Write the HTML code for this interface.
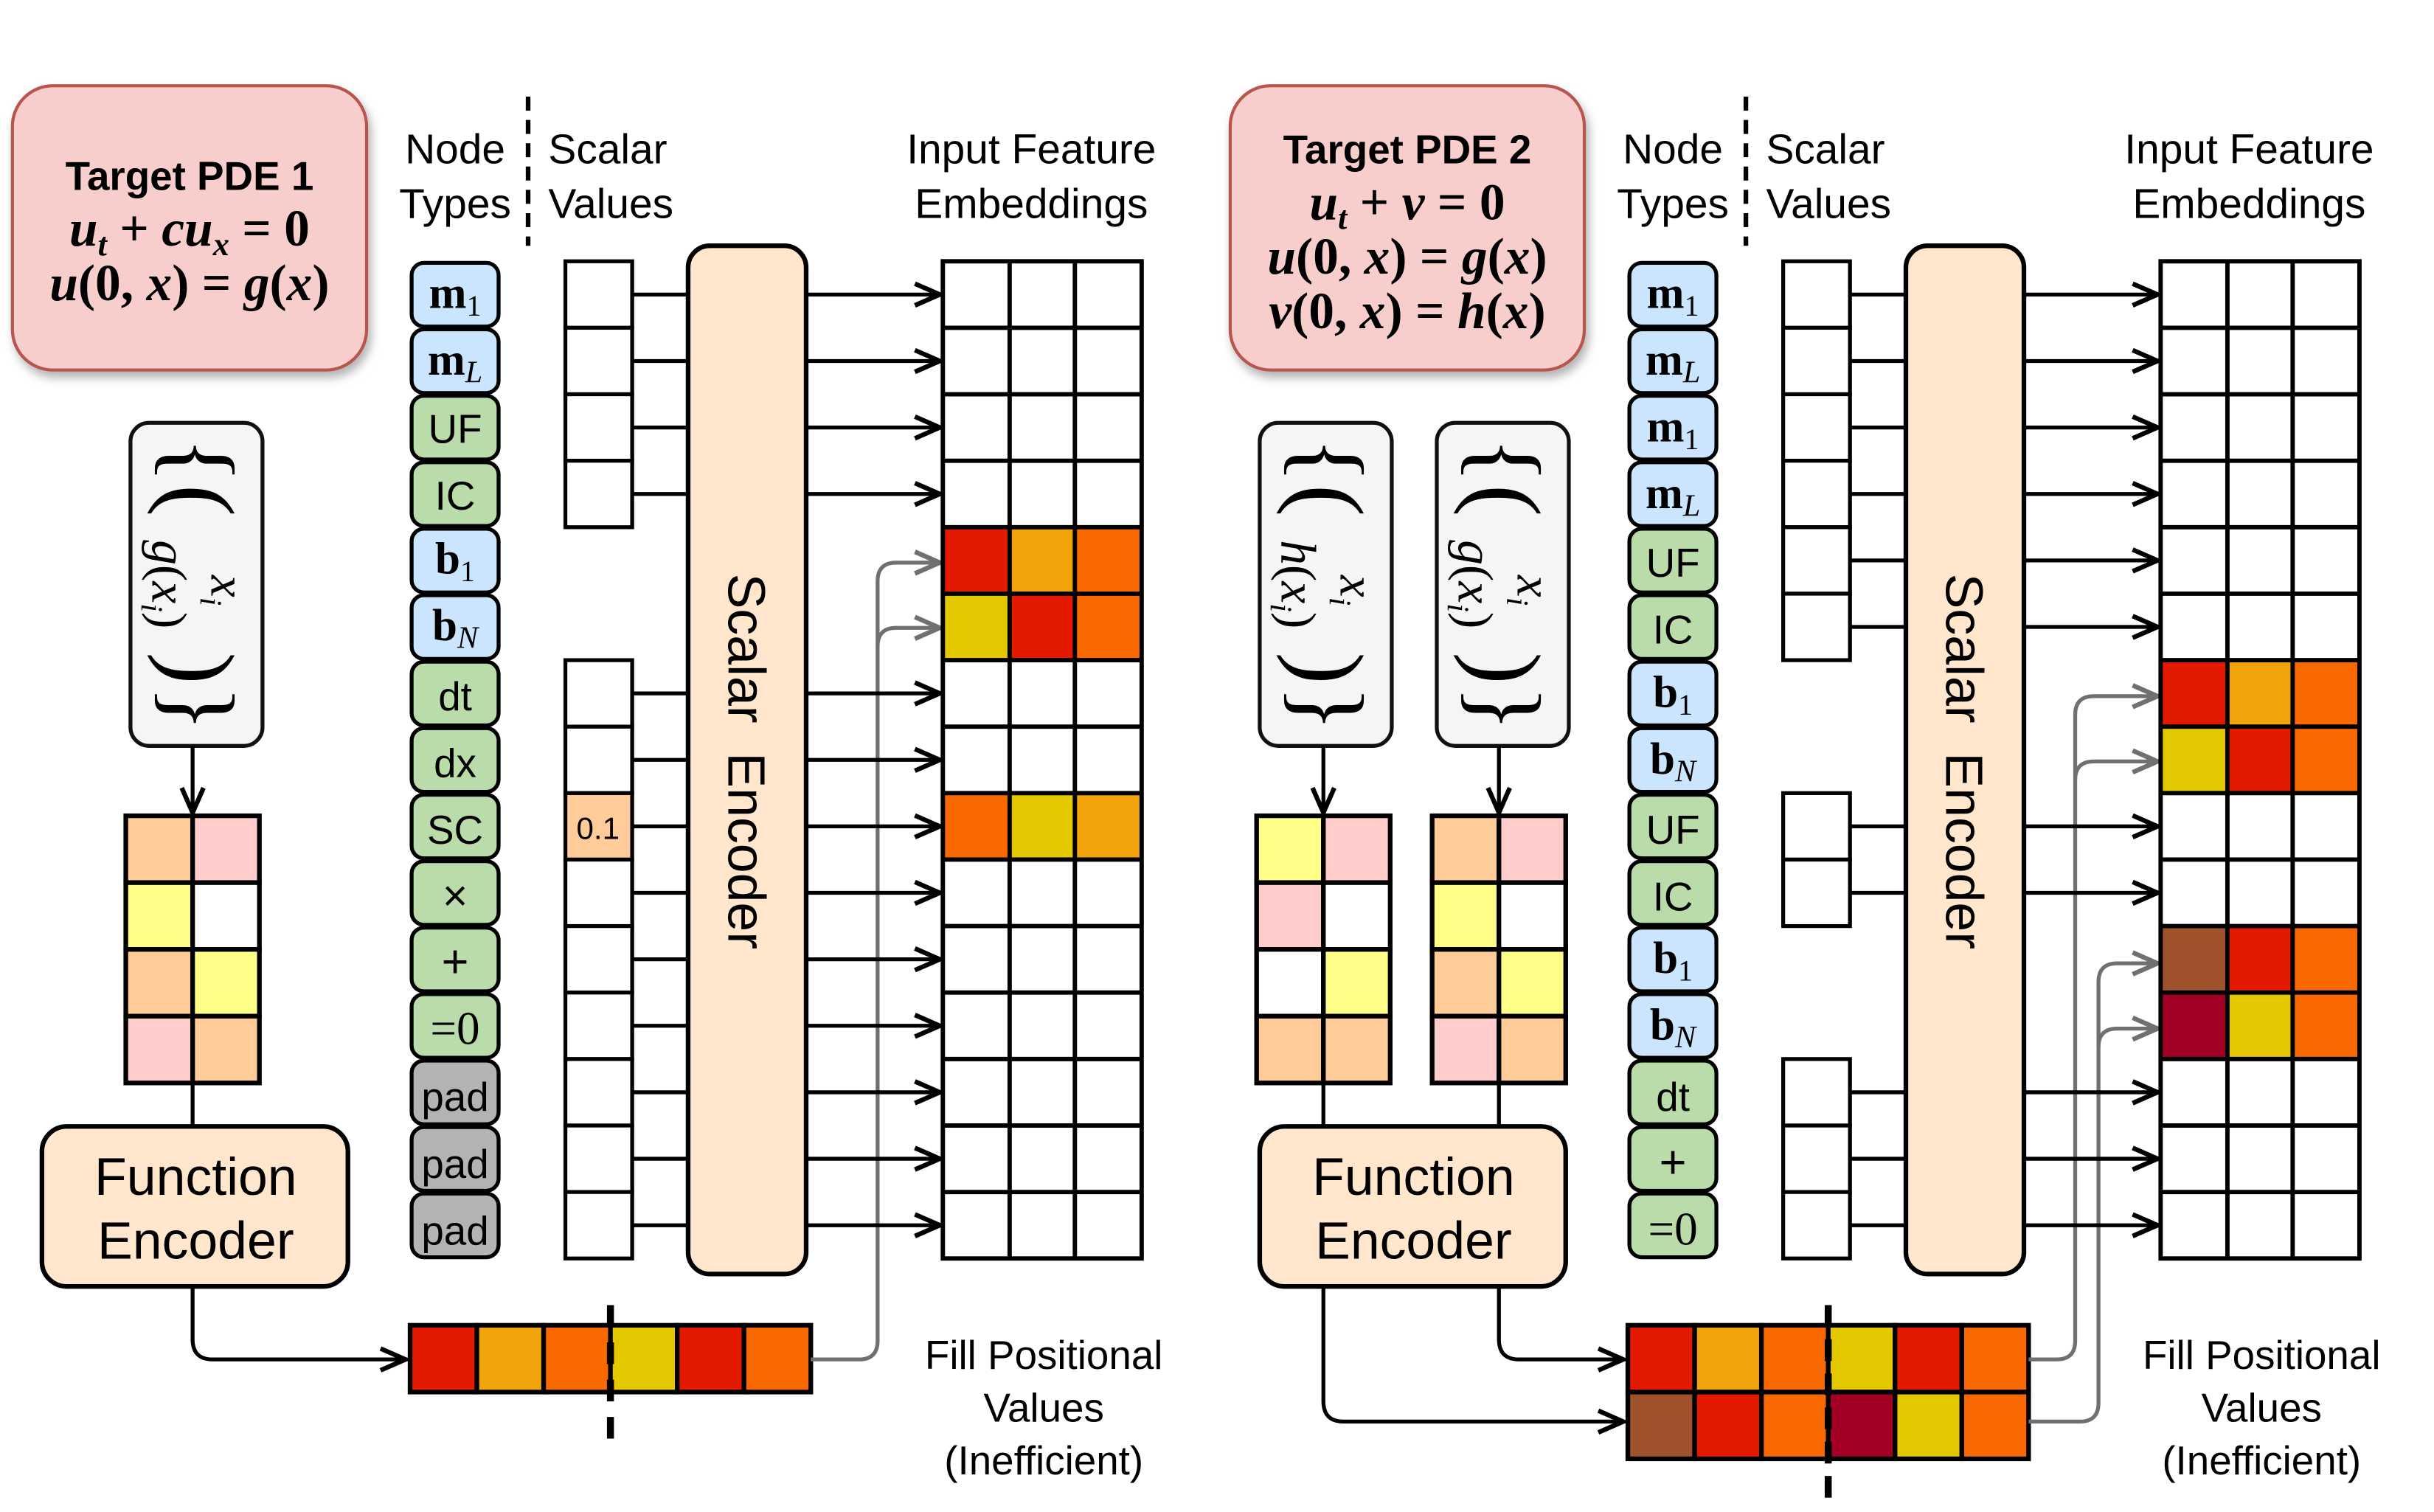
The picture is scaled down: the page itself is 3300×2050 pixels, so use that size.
<!DOCTYPE html>
<html><head><meta charset="utf-8"><style>
html,body{margin:0;padding:0;background:#fff;}
svg{display:block;}
.s{font-family:"Liberation Sans",sans-serif;}
.m{font-family:"Liberation Serif",serif;font-style:italic;}
.mb{font-family:"Liberation Serif",serif;font-weight:bold;}
.eq{font-family:"Liberation Serif",serif;font-style:italic;font-weight:600;}
</style></head><body>
<svg width="3300" height="2050" viewBox="0 0 1567 973" xmlns="http://www.w3.org/2000/svg">
<defs>
<marker id="a" viewBox="0 0 20 20" refX="18" refY="10" markerWidth="20" markerHeight="20" markerUnits="userSpaceOnUse" orient="auto"><polyline points="2,3 18,10 2,17" fill="none" stroke="#000" stroke-width="3"/></marker>
<marker id="g" viewBox="0 0 20 20" refX="18" refY="10" markerWidth="20" markerHeight="20" markerUnits="userSpaceOnUse" orient="auto"><polyline points="2,3 18,10 2,17" fill="none" stroke="#707070" stroke-width="3"/></marker>
<filter id="sh" x="-10%" y="-10%" width="130%" height="130%"><feDropShadow dx="2" dy="4" stdDeviation="3" flood-opacity="0.3"/></filter>
</defs>

<!-- ================= LEFT PANEL ================= -->
<rect x="8" y="55" width="228" height="183" rx="26" fill="#f8cecc" stroke="#b85450" stroke-width="2" filter="url(#sh)"/>
<text x="122" y="122" text-anchor="middle" class="s" font-weight="bold" font-size="26">Target PDE 1</text>
<text x="122" y="158" text-anchor="middle" class="eq" font-size="33">u<tspan font-size="21" dy="6">t</tspan><tspan dy="-6" font-style="normal"> + </tspan>cu<tspan font-size="21" dy="6">x</tspan><tspan dy="-6" font-style="normal"> = 0</tspan></text>
<text x="122" y="193" text-anchor="middle" class="eq" font-size="33">u<tspan font-style="normal">(0, </tspan>x<tspan font-style="normal">) = </tspan>g<tspan font-style="normal">(</tspan>x<tspan font-style="normal">)</tspan></text>

<rect x="84" y="272" width="85" height="208" rx="12" fill="#f5f5f5" stroke="#111" stroke-width="2.5"/>
<g transform="translate(126,376) rotate(90)" class="m" text-anchor="middle">
<text x="-80" y="18" font-size="62" font-style="normal">{</text>
<text x="-54" y="18" font-size="62" font-style="normal">(</text>
<text x="4" y="-10" font-size="32">x<tspan font-size="20" dy="7">i</tspan></text>
<text x="0" y="28" font-size="32">g<tspan font-style="normal">(</tspan>x<tspan font-size="20" dy="7">i</tspan><tspan dy="-7" font-style="normal">)</tspan></text>
<text x="54" y="18" font-size="62" font-style="normal">)</text>
<text x="80" y="18" font-size="62" font-style="normal">}</text>
</g>
<line x1="124" y1="480" x2="124" y2="523" stroke="#000" stroke-width="2.5" marker-end="url(#a)"/>

<g stroke="#000" stroke-width="3">
<rect x="81" y="525" width="43" height="43" fill="#ffcc99"/><rect x="124" y="525" width="43" height="43" fill="#ffcccc"/>
<rect x="81" y="568" width="43" height="43" fill="#ffff88"/><rect x="124" y="568" width="43" height="43" fill="#ffffff"/>
<rect x="81" y="611" width="43" height="43" fill="#ffcc99"/><rect x="124" y="611" width="43" height="43" fill="#ffff88"/>
<rect x="81" y="654" width="43" height="43" fill="#ffcccc"/><rect x="124" y="654" width="43" height="43" fill="#ffcc99"/>
</g>
<line x1="124" y1="697" x2="124" y2="725" stroke="#000" stroke-width="2.5"/>
<rect x="27" y="725" width="197" height="103" rx="16" fill="#ffe6cc" stroke="#000" stroke-width="3"/>
<text x="126" y="769" text-anchor="middle" class="s" font-size="34">Function</text>
<text x="126" y="810" text-anchor="middle" class="s" font-size="34">Encoder</text>
<path d="M124,828 V862 Q124,875 137,875 H261" fill="none" stroke="#000" stroke-width="2.5" marker-end="url(#a)"/>

<g stroke="#000" stroke-width="3">
<rect x="264" y="853" width="43" height="43" fill="#e31a00"/>
<rect x="307" y="853" width="43" height="43" fill="#f0a30a"/>
<rect x="350" y="853" width="43" height="43" fill="#fa6800"/>
<rect x="393" y="853" width="43" height="43" fill="#e3c800"/>
<rect x="436" y="853" width="43" height="43" fill="#e31a00"/>
<rect x="479" y="853" width="43" height="43" fill="#fa6800"/>
</g>
<line x1="393" y1="840" x2="393" y2="926" stroke="#000" stroke-width="4.5" stroke-dasharray="14,10"/>
<path d="M522,875 H553 Q565,875 565,863 V374 Q565,362 577,362 H605" fill="none" stroke="#707070" stroke-width="2.5" marker-end="url(#g)"/>
<path d="M565,416 Q565,404 577,404 H605" fill="none" stroke="#707070" stroke-width="2.5" marker-end="url(#g)"/>
<g class="s" font-size="26" text-anchor="middle">
<text x="672" y="881">Fill Positional</text>
<text x="672" y="915">Values</text>
<text x="672" y="949">(Inefficient)</text>
</g>

<g class="s" font-size="27">
<text x="293" y="105" text-anchor="middle">Node</text>
<text x="293" y="140" text-anchor="middle">Types</text>
<text x="353" y="105">Scalar</text>
<text x="353" y="140">Values</text>
<text x="664" y="105" text-anchor="middle">Input Feature</text>
<text x="664" y="140" text-anchor="middle">Embeddings</text>
</g>
<line x1="340" y1="62" x2="340" y2="158" stroke="#000" stroke-width="3" stroke-dasharray="9,6"/>

<g stroke="#000" stroke-width="2.5">
<rect x="265" y="169" width="56" height="41" rx="8" fill="#cce5ff"/>
<rect x="265" y="211.8" width="56" height="41" rx="8" fill="#cce5ff"/>
<rect x="265" y="254.6" width="56" height="41" rx="8" fill="#b9dcaa"/>
<rect x="265" y="297.4" width="56" height="41" rx="8" fill="#b9dcaa"/>
<rect x="265" y="340.2" width="56" height="41" rx="8" fill="#cce5ff"/>
<rect x="265" y="383" width="56" height="41" rx="8" fill="#cce5ff"/>
<rect x="265" y="425.8" width="56" height="41" rx="8" fill="#b9dcaa"/>
<rect x="265" y="468.6" width="56" height="41" rx="8" fill="#b9dcaa"/>
<rect x="265" y="511.4" width="56" height="41" rx="8" fill="#b9dcaa"/>
<rect x="265" y="554.2" width="56" height="41" rx="8" fill="#b9dcaa"/>
<rect x="265" y="597" width="56" height="41" rx="8" fill="#b9dcaa"/>
<rect x="265" y="639.8" width="56" height="41" rx="8" fill="#b9dcaa"/>
<rect x="265" y="682.6" width="56" height="41" rx="8" fill="#b3b3b3"/>
<rect x="265" y="725.4" width="56" height="41" rx="8" fill="#b3b3b3"/>
<rect x="265" y="768.2" width="56" height="41" rx="8" fill="#b3b3b3"/>
</g>
<g text-anchor="middle" font-size="29">
<text x="293" y="198" class="mb">m<tspan font-size="19" dy="5" font-weight="normal">1</tspan></text>
<text x="293" y="241" class="mb">m<tspan font-size="20" dy="5" font-weight="normal" font-style="italic">L</tspan></text>
<text x="293" y="285" class="s" font-size="26">UF</text>
<text x="293" y="328" class="s" font-size="26">IC</text>
<text x="293" y="369" class="mb">b<tspan font-size="19" dy="5" font-weight="normal">1</tspan></text>
<text x="293" y="412" class="mb">b<tspan font-size="20" dy="5" font-weight="normal" font-style="italic">N</tspan></text>
<text x="293" y="457" class="s" font-size="26">dt</text>
<text x="293" y="500" class="s" font-size="26">dx</text>
<text x="293" y="543" class="s" font-size="26">SC</text>
<text x="293" y="586" class="s" font-size="28">×</text>
<text x="293" y="629" class="s" font-size="30">+</text>
<text x="293" y="672" font-family="Liberation Serif" font-size="30">=0</text>
<text x="293" y="715" class="s" font-size="26">pad</text>
<text x="293" y="758" class="s" font-size="26">pad</text>
<text x="293" y="801" class="s" font-size="26">pad</text>
</g>

<g stroke="#000" stroke-width="2.5" fill="#fff">
<rect x="364" y="168" width="43" height="42.8"/><rect x="364" y="210.8" width="43" height="42.8"/>
<rect x="364" y="253.6" width="43" height="42.8"/><rect x="364" y="296.4" width="43" height="42.8"/>
<rect x="364" y="424.8" width="43" height="42.8"/><rect x="364" y="467.6" width="43" height="42.8"/>
<rect x="364" y="510.4" width="43" height="42.8" fill="#ffcc99"/><rect x="364" y="553.2" width="43" height="42.8"/>
<rect x="364" y="596" width="43" height="42.8"/><rect x="364" y="638.8" width="43" height="42.8"/>
<rect x="364" y="681.6" width="43" height="42.8"/><rect x="364" y="724.4" width="43" height="42.8"/>
<rect x="364" y="767.2" width="43" height="42.8"/>
</g>
<text x="385" y="540" text-anchor="middle" class="s" font-size="20">0.1</text>
<g stroke="#000" stroke-width="2.5">
<line x1="407" y1="189.4" x2="443" y2="189.4"/><line x1="407" y1="232.2" x2="443" y2="232.2"/>
<line x1="407" y1="275" x2="443" y2="275"/><line x1="407" y1="317.8" x2="443" y2="317.8"/>
<line x1="407" y1="446.2" x2="443" y2="446.2"/><line x1="407" y1="489" x2="443" y2="489"/>
<line x1="407" y1="531.8" x2="443" y2="531.8"/><line x1="407" y1="574.6" x2="443" y2="574.6"/>
<line x1="407" y1="617.4" x2="443" y2="617.4"/><line x1="407" y1="660.2" x2="443" y2="660.2"/>
<line x1="407" y1="703" x2="443" y2="703"/><line x1="407" y1="745.8" x2="443" y2="745.8"/>
<line x1="407" y1="788.6" x2="443" y2="788.6"/>
</g>
<rect x="443" y="158" width="76" height="662" rx="14" fill="#ffe6cc" stroke="#000" stroke-width="3"/>
<text transform="translate(469,490) rotate(90)" text-anchor="middle" class="s" font-size="34" xml:space="preserve">Scalar  Encoder</text>
<g stroke="#000" stroke-width="2.5" marker-end="url(#a)">
<line x1="519" y1="189.4" x2="605" y2="189.4"/><line x1="519" y1="232.2" x2="605" y2="232.2"/>
<line x1="519" y1="275" x2="605" y2="275"/><line x1="519" y1="317.8" x2="605" y2="317.8"/>
<line x1="519" y1="446.2" x2="605" y2="446.2"/><line x1="519" y1="489" x2="605" y2="489"/>
<line x1="519" y1="531.8" x2="605" y2="531.8"/><line x1="519" y1="574.6" x2="605" y2="574.6"/>
<line x1="519" y1="617.4" x2="605" y2="617.4"/><line x1="519" y1="660.2" x2="605" y2="660.2"/>
<line x1="519" y1="703" x2="605" y2="703"/><line x1="519" y1="745.8" x2="605" y2="745.8"/>
<line x1="519" y1="788.6" x2="605" y2="788.6"/>
</g>

<rect x="607" y="168" width="128" height="642" fill="#fff"/>
<rect x="607" y="339.2" width="43" height="42.8" fill="#e31a00"/><rect x="650" y="339.2" width="42" height="42.8" fill="#f0a30a"/><rect x="692" y="339.2" width="43" height="42.8" fill="#fa6800"/>
<rect x="607" y="382" width="43" height="42.8" fill="#e3c800"/><rect x="650" y="382" width="42" height="42.8" fill="#e31a00"/><rect x="692" y="382" width="43" height="42.8" fill="#fa6800"/>
<rect x="607" y="510.4" width="43" height="42.8" fill="#fa6800"/><rect x="650" y="510.4" width="42" height="42.8" fill="#e3c800"/><rect x="692" y="510.4" width="43" height="42.8" fill="#f0a30a"/>
<g stroke="#000" stroke-width="2.8" fill="none">
<rect x="607" y="168" width="128" height="642"/>
<line x1="650" y1="168" x2="650" y2="810"/><line x1="692" y1="168" x2="692" y2="810"/>
<path d="M607,210.8H735M607,253.6H735M607,296.4H735M607,339.2H735M607,382H735M607,424.8H735M607,467.6H735M607,510.4H735M607,553.2H735M607,596H735M607,638.8H735M607,681.6H735M607,724.4H735M607,767.2H735"/>
</g>

<!-- ================= RIGHT PANEL ================= -->
<rect x="792" y="55" width="228" height="183" rx="26" fill="#f8cecc" stroke="#b85450" stroke-width="2" filter="url(#sh)"/>
<text x="906" y="105" text-anchor="middle" class="s" font-weight="bold" font-size="26">Target PDE 2</text>
<text x="906" y="141" text-anchor="middle" class="eq" font-size="33">u<tspan font-size="21" dy="6">t</tspan><tspan dy="-6" font-style="normal"> + </tspan>v<tspan font-style="normal"> = 0</tspan></text>
<text x="906" y="176" text-anchor="middle" class="eq" font-size="33">u<tspan font-style="normal">(0, </tspan>x<tspan font-style="normal">) = </tspan>g<tspan font-style="normal">(</tspan>x<tspan font-style="normal">)</tspan></text>
<text x="906" y="211" text-anchor="middle" class="eq" font-size="33">v<tspan font-style="normal">(0, </tspan>x<tspan font-style="normal">) = </tspan>h<tspan font-style="normal">(</tspan>x<tspan font-style="normal">)</tspan></text>

<rect x="811" y="272" width="85" height="208" rx="12" fill="#f5f5f5" stroke="#111" stroke-width="2.5"/>
<g transform="translate(853,376) rotate(90)" class="m" text-anchor="middle">
<text x="-80" y="18" font-size="62" font-style="normal">{</text>
<text x="-54" y="18" font-size="62" font-style="normal">(</text>
<text x="4" y="-10" font-size="32">x<tspan font-size="20" dy="7">i</tspan></text>
<text x="0" y="28" font-size="32">h<tspan font-style="normal">(</tspan>x<tspan font-size="20" dy="7">i</tspan><tspan dy="-7" font-style="normal">)</tspan></text>
<text x="54" y="18" font-size="62" font-style="normal">)</text>
<text x="80" y="18" font-size="62" font-style="normal">}</text>
</g>
<rect x="925" y="272" width="85" height="208" rx="12" fill="#f5f5f5" stroke="#111" stroke-width="2.5"/>
<g transform="translate(967,376) rotate(90)" class="m" text-anchor="middle">
<text x="-80" y="18" font-size="62" font-style="normal">{</text>
<text x="-54" y="18" font-size="62" font-style="normal">(</text>
<text x="4" y="-10" font-size="32">x<tspan font-size="20" dy="7">i</tspan></text>
<text x="0" y="28" font-size="32">g<tspan font-style="normal">(</tspan>x<tspan font-size="20" dy="7">i</tspan><tspan dy="-7" font-style="normal">)</tspan></text>
<text x="54" y="18" font-size="62" font-style="normal">)</text>
<text x="80" y="18" font-size="62" font-style="normal">}</text>
</g>
<line x1="852" y1="480" x2="852" y2="523" stroke="#000" stroke-width="2.5" marker-end="url(#a)"/>
<line x1="965" y1="480" x2="965" y2="523" stroke="#000" stroke-width="2.5" marker-end="url(#a)"/>

<g stroke="#000" stroke-width="3">
<rect x="809" y="525" width="43" height="43" fill="#ffff88"/><rect x="852" y="525" width="43" height="43" fill="#ffcccc"/>
<rect x="809" y="568" width="43" height="43" fill="#ffcccc"/><rect x="852" y="568" width="43" height="43" fill="#ffffff"/>
<rect x="809" y="611" width="43" height="43" fill="#ffffff"/><rect x="852" y="611" width="43" height="43" fill="#ffff88"/>
<rect x="809" y="654" width="43" height="43" fill="#ffcc99"/><rect x="852" y="654" width="43" height="43" fill="#ffcc99"/>
<rect x="922" y="525" width="43" height="43" fill="#ffcc99"/><rect x="965" y="525" width="43" height="43" fill="#ffcccc"/>
<rect x="922" y="568" width="43" height="43" fill="#ffff88"/><rect x="965" y="568" width="43" height="43" fill="#ffffff"/>
<rect x="922" y="611" width="43" height="43" fill="#ffcc99"/><rect x="965" y="611" width="43" height="43" fill="#ffff88"/>
<rect x="922" y="654" width="43" height="43" fill="#ffcccc"/><rect x="965" y="654" width="43" height="43" fill="#ffcc99"/>
</g>
<line x1="852" y1="697" x2="852" y2="725" stroke="#000" stroke-width="2.5"/>
<line x1="965" y1="697" x2="965" y2="725" stroke="#000" stroke-width="2.5"/>
<rect x="811" y="725" width="197" height="103" rx="16" fill="#ffe6cc" stroke="#000" stroke-width="3"/>
<text x="910" y="769" text-anchor="middle" class="s" font-size="34">Function</text>
<text x="910" y="810" text-anchor="middle" class="s" font-size="34">Encoder</text>
<path d="M965,828 V862 Q965,875 978,875 H1045" fill="none" stroke="#000" stroke-width="2.5" marker-end="url(#a)"/>
<path d="M852,828 V902 Q852,915 865,915 H1045" fill="none" stroke="#000" stroke-width="2.5" marker-end="url(#a)"/>

<g stroke="#000" stroke-width="3">
<rect x="1048" y="853" width="43" height="43" fill="#e31a00"/>
<rect x="1091" y="853" width="43" height="43" fill="#f0a30a"/>
<rect x="1134" y="853" width="43" height="43" fill="#fa6800"/>
<rect x="1177" y="853" width="43" height="43" fill="#e3c800"/>
<rect x="1220" y="853" width="43" height="43" fill="#e31a00"/>
<rect x="1263" y="853" width="43" height="43" fill="#fa6800"/>
<rect x="1048" y="896" width="43" height="43" fill="#a0522d"/>
<rect x="1091" y="896" width="43" height="43" fill="#e31a00"/>
<rect x="1134" y="896" width="43" height="43" fill="#fa6800"/>
<rect x="1177" y="896" width="43" height="43" fill="#a20025"/>
<rect x="1220" y="896" width="43" height="43" fill="#e3c800"/>
<rect x="1263" y="896" width="43" height="43" fill="#fa6800"/>
</g>
<line x1="1177" y1="840" x2="1177" y2="964" stroke="#000" stroke-width="4.5" stroke-dasharray="14,8"/>
<path d="M1306,875 H1324 Q1336,875 1336,863 V460 Q1336,448 1348,448 H1389" fill="none" stroke="#707070" stroke-width="2.5" marker-end="url(#g)"/>
<path d="M1336,502 Q1336,490 1348,490 H1389" fill="none" stroke="#707070" stroke-width="2.5" marker-end="url(#g)"/>
<path d="M1306,915 H1339 Q1351,915 1351,903 V632 Q1351,620 1363,620 H1389" fill="none" stroke="#707070" stroke-width="2.5" marker-end="url(#g)"/>
<path d="M1351,674 Q1351,662 1363,662 H1389" fill="none" stroke="#707070" stroke-width="2.5" marker-end="url(#g)"/>
<g class="s" font-size="26" text-anchor="middle">
<text x="1456" y="881">Fill Positional</text>
<text x="1456" y="915">Values</text>
<text x="1456" y="949">(Inefficient)</text>
</g>

<g class="s" font-size="27">
<text x="1077" y="105" text-anchor="middle">Node</text>
<text x="1077" y="140" text-anchor="middle">Types</text>
<text x="1137" y="105">Scalar</text>
<text x="1137" y="140">Values</text>
<text x="1448" y="105" text-anchor="middle">Input Feature</text>
<text x="1448" y="140" text-anchor="middle">Embeddings</text>
</g>
<line x1="1124" y1="62" x2="1124" y2="158" stroke="#000" stroke-width="3" stroke-dasharray="9,6"/>

<g stroke="#000" stroke-width="2.5">
<rect x="1049" y="169" width="56" height="41" rx="8" fill="#cce5ff"/>
<rect x="1049" y="211.8" width="56" height="41" rx="8" fill="#cce5ff"/>
<rect x="1049" y="254.6" width="56" height="41" rx="8" fill="#cce5ff"/>
<rect x="1049" y="297.4" width="56" height="41" rx="8" fill="#cce5ff"/>
<rect x="1049" y="340.2" width="56" height="41" rx="8" fill="#b9dcaa"/>
<rect x="1049" y="383" width="56" height="41" rx="8" fill="#b9dcaa"/>
<rect x="1049" y="425.8" width="56" height="41" rx="8" fill="#cce5ff"/>
<rect x="1049" y="468.6" width="56" height="41" rx="8" fill="#cce5ff"/>
<rect x="1049" y="511.4" width="56" height="41" rx="8" fill="#b9dcaa"/>
<rect x="1049" y="554.2" width="56" height="41" rx="8" fill="#b9dcaa"/>
<rect x="1049" y="597" width="56" height="41" rx="8" fill="#cce5ff"/>
<rect x="1049" y="639.8" width="56" height="41" rx="8" fill="#cce5ff"/>
<rect x="1049" y="682.6" width="56" height="41" rx="8" fill="#b9dcaa"/>
<rect x="1049" y="725.4" width="56" height="41" rx="8" fill="#b9dcaa"/>
<rect x="1049" y="768.2" width="56" height="41" rx="8" fill="#b9dcaa"/>
</g>
<g text-anchor="middle" font-size="29">
<text x="1077" y="198" class="mb">m<tspan font-size="19" dy="5" font-weight="normal">1</tspan></text>
<text x="1077" y="241" class="mb">m<tspan font-size="20" dy="5" font-weight="normal" font-style="italic">L</tspan></text>
<text x="1077" y="284" class="mb">m<tspan font-size="19" dy="5" font-weight="normal">1</tspan></text>
<text x="1077" y="327" class="mb">m<tspan font-size="20" dy="5" font-weight="normal" font-style="italic">L</tspan></text>
<text x="1077" y="371" class="s" font-size="26">UF</text>
<text x="1077" y="414" class="s" font-size="26">IC</text>
<text x="1077" y="455" class="mb">b<tspan font-size="19" dy="5" font-weight="normal">1</tspan></text>
<text x="1077" y="498" class="mb">b<tspan font-size="20" dy="5" font-weight="normal" font-style="italic">N</tspan></text>
<text x="1077" y="543" class="s" font-size="26">UF</text>
<text x="1077" y="586" class="s" font-size="26">IC</text>
<text x="1077" y="626" class="mb">b<tspan font-size="19" dy="5" font-weight="normal">1</tspan></text>
<text x="1077" y="669" class="mb">b<tspan font-size="20" dy="5" font-weight="normal" font-style="italic">N</tspan></text>
<text x="1077" y="715" class="s" font-size="26">dt</text>
<text x="1077" y="758" class="s" font-size="30">+</text>
<text x="1077" y="801" font-family="Liberation Serif" font-size="30">=0</text>
</g>

<g stroke="#000" stroke-width="2.5" fill="#fff">
<rect x="1148" y="168" width="43" height="42.8"/><rect x="1148" y="210.8" width="43" height="42.8"/>
<rect x="1148" y="253.6" width="43" height="42.8"/><rect x="1148" y="296.4" width="43" height="42.8"/>
<rect x="1148" y="339.2" width="43" height="42.8"/><rect x="1148" y="382" width="43" height="42.8"/>
<rect x="1148" y="510.4" width="43" height="42.8"/><rect x="1148" y="553.2" width="43" height="42.8"/>
<rect x="1148" y="681.6" width="43" height="42.8"/><rect x="1148" y="724.4" width="43" height="42.8"/>
<rect x="1148" y="767.2" width="43" height="42.8"/>
</g>
<g stroke="#000" stroke-width="2.5">
<line x1="1191" y1="189.4" x2="1227" y2="189.4"/><line x1="1191" y1="232.2" x2="1227" y2="232.2"/>
<line x1="1191" y1="275" x2="1227" y2="275"/><line x1="1191" y1="317.8" x2="1227" y2="317.8"/>
<line x1="1191" y1="360.6" x2="1227" y2="360.6"/><line x1="1191" y1="403.4" x2="1227" y2="403.4"/>
<line x1="1191" y1="531.8" x2="1227" y2="531.8"/><line x1="1191" y1="574.6" x2="1227" y2="574.6"/>
<line x1="1191" y1="703" x2="1227" y2="703"/><line x1="1191" y1="745.8" x2="1227" y2="745.8"/>
<line x1="1191" y1="788.6" x2="1227" y2="788.6"/>
</g>
<rect x="1227" y="158" width="76" height="662" rx="14" fill="#ffe6cc" stroke="#000" stroke-width="3"/>
<text transform="translate(1253,490) rotate(90)" text-anchor="middle" class="s" font-size="34" xml:space="preserve">Scalar  Encoder</text>
<g stroke="#000" stroke-width="2.5" marker-end="url(#a)">
<line x1="1303" y1="189.4" x2="1389" y2="189.4"/><line x1="1303" y1="232.2" x2="1389" y2="232.2"/>
<line x1="1303" y1="275" x2="1389" y2="275"/><line x1="1303" y1="317.8" x2="1389" y2="317.8"/>
<line x1="1303" y1="360.6" x2="1389" y2="360.6"/><line x1="1303" y1="403.4" x2="1389" y2="403.4"/>
<line x1="1303" y1="531.8" x2="1389" y2="531.8"/><line x1="1303" y1="574.6" x2="1389" y2="574.6"/>
<line x1="1303" y1="703" x2="1389" y2="703"/><line x1="1303" y1="745.8" x2="1389" y2="745.8"/>
<line x1="1303" y1="788.6" x2="1389" y2="788.6"/>
</g>

<rect x="1391" y="168" width="128" height="642" fill="#fff"/>
<rect x="1391" y="424.8" width="43" height="42.8" fill="#e31a00"/><rect x="1434" y="424.8" width="42" height="42.8" fill="#f0a30a"/><rect x="1476" y="424.8" width="43" height="42.8" fill="#fa6800"/>
<rect x="1391" y="467.6" width="43" height="42.8" fill="#e3c800"/><rect x="1434" y="467.6" width="42" height="42.8" fill="#e31a00"/><rect x="1476" y="467.6" width="43" height="42.8" fill="#fa6800"/>
<rect x="1391" y="596" width="43" height="42.8" fill="#a0522d"/><rect x="1434" y="596" width="42" height="42.8" fill="#e31a00"/><rect x="1476" y="596" width="43" height="42.8" fill="#fa6800"/>
<rect x="1391" y="638.8" width="43" height="42.8" fill="#a20025"/><rect x="1434" y="638.8" width="42" height="42.8" fill="#e3c800"/><rect x="1476" y="638.8" width="43" height="42.8" fill="#fa6800"/>
<g stroke="#000" stroke-width="2.8" fill="none">
<rect x="1391" y="168" width="128" height="642"/>
<line x1="1434" y1="168" x2="1434" y2="810"/><line x1="1476" y1="168" x2="1476" y2="810"/>
<path d="M1391,210.8H1519M1391,253.6H1519M1391,296.4H1519M1391,339.2H1519M1391,382H1519M1391,424.8H1519M1391,467.6H1519M1391,510.4H1519M1391,553.2H1519M1391,596H1519M1391,638.8H1519M1391,681.6H1519M1391,724.4H1519M1391,767.2H1519"/>
</g>
</svg>
</body></html>
